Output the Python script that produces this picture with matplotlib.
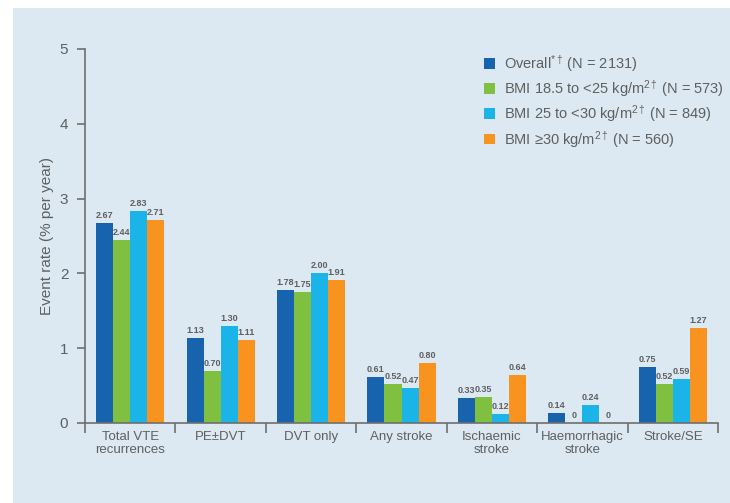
import matplotlib
matplotlib.use("Agg")
import matplotlib.pyplot as plt
from matplotlib.patches import Rectangle, Patch
import numpy as np

categories = ["Total VTE\nrecurrences", "PE±DVT", "DVT only", "Any stroke",
              "Ischaemic\nstroke", "Haemorrhagic\nstroke", "Stroke/SE"]
series_names = [r"Overall$^{*\dagger}$" + "\u2009(N = 2131)",
                r"BMI 18.5 to <25 kg/m$^{2\dagger}$" + "\u2009(N = 573)",
                r"BMI 25 to <30 kg/m$^{2\dagger}$" + "\u2009(N = 849)",
                "BMI \u226530 kg/m" + r"$^{2\dagger}$" + "\u2009(N = 560)"]
overall = [2.67, 1.13, 1.78, 0.61, 0.33, 0.14, 0.75]
bmi_normal = [2.44, 0.70, 1.75, 0.52, 0.35, 0.0, 0.52]
bmi_over = [2.83, 1.30, 2.00, 0.47, 0.12, 0.24, 0.59]
bmi_obese = [2.71, 1.11, 1.91, 0.80, 0.64, 0.0, 1.27]
value_labels = [
    ["2.67", "1.13", "1.78", "0.61", "0.33", "0.14", "0.75"],
    ["2.44", "0.70", "1.75", "0.52", "0.35", "0", "0.52"],
    ["2.83", "1.30", "2.00", "0.47", "0.12", "0.24", "0.59"],
    ["2.71", "1.11", "1.91", "0.80", "0.64", "0", "1.27"],
]
yticks = [0, 1, 2, 3, 4, 5]

colors = ["#1763ad", "#80c041", "#1ab4e8", "#f7931e"]
text_grey = "#5f5f5f"
axis_grey = "#6e6e6e"

plt.rcParams["font.family"] = ["Liberation Sans", "DejaVu Sans"]
plt.rcParams["mathtext.fontset"] = "custom"
plt.rcParams["mathtext.rm"] = "Liberation Sans"
plt.rcParams["mathtext.it"] = "Liberation Sans"
plt.rcParams["mathtext.bf"] = "Liberation Sans:bold"
plt.rcParams["mathtext.default"] = "regular"

fig = plt.figure(figsize=(7.30, 5.03), dpi=100)
fig.patch.set_facecolor("white")
fig.patches.append(Rectangle((13 / 730, 0), 1, 1 - 8 / 503, transform=fig.transFigure,
                             facecolor="#dce9f3", edgecolor="none", zorder=-10))

ax = fig.add_axes([85 / 730, 1 - 423 / 503, (718 - 85) / 730, (423 - 49) / 503])
ax.set_facecolor("none")

data = [overall, bmi_normal, bmi_over, bmi_obese]
n = len(categories)
x = np.arange(n) + 0.5
w = 0.188
for i, (vals, col) in enumerate(zip(data, colors)):
    pos = x + (i - 1.5) * w
    ax.bar(pos, vals, width=w, color=col, edgecolor="none", label=series_names[i], zorder=2)
    for px, v, lab in zip(pos, vals, value_labels[i]):
        ax.text(px, v + 0.04, lab, ha="center", va="bottom", fontsize=6.5,
                fontweight="bold", color=text_grey, zorder=3)

ax.set_xlim(0, n)
ax.set_ylim(0, 5)
ax.set_yticks(yticks)
ax.set_yticklabels([str(t) for t in yticks], fontsize=11, color=text_grey)
ax.set_xticks(x)
ax.set_xticklabels(categories, fontsize=9.5, color=text_grey, linespacing=1.1)
ax.tick_params(axis="x", which="major", length=0, pad=6)
ax.set_xticks(np.arange(n + 1), minor=True)
ax.tick_params(axis="x", which="minor", length=7, width=1.2, color=axis_grey, direction="out")
ax.tick_params(axis="y", length=6, width=1.2, color=axis_grey, direction="out", pad=6)

for s in ["top", "right"]:
    ax.spines[s].set_visible(False)
for s in ["left", "bottom"]:
    ax.spines[s].set_color(axis_grey)
    ax.spines[s].set_linewidth(1.2)

ax.set_ylabel("Event rate (% per year)", fontsize=11, color=text_grey, labelpad=4)

handles = [Patch(facecolor=c, edgecolor="none") for c in colors]
leg = ax.legend(handles, series_names, loc="upper left", bbox_to_anchor=(0.61, 1.025),
                frameon=False, fontsize=10.5, handlelength=0.75, handleheight=0.75,
                handletextpad=0.6, labelspacing=0.3, labelcolor=text_grey)

fig.savefig("out.png", dpi=100, facecolor=fig.get_facecolor())
